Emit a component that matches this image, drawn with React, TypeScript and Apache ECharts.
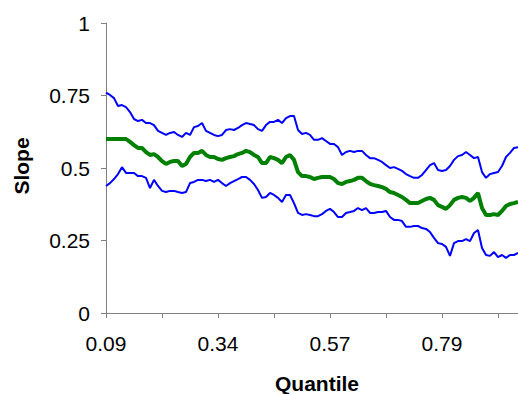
import React, { useEffect, useRef } from "react";
import * as echarts from "echarts";

const quantileTickLabels = ["0.09", "0.34", "0.57", "0.79"];
const labelEvery = 28; // categories between labelled ticks
const tickEvery = 14; // categories between tick marks

const upperBand = [
  0.760, 0.752, 0.741, 0.714, 0.717, 0.710, 0.693, 0.669, 0.662, 0.666,
  0.655, 0.655, 0.648, 0.628, 0.621, 0.614, 0.621, 0.624, 0.614, 0.607,
  0.621, 0.614, 0.641, 0.645, 0.655, 0.628, 0.621, 0.614, 0.610, 0.614,
  0.631, 0.634, 0.631, 0.638, 0.648, 0.655, 0.652, 0.648, 0.634, 0.628,
  0.648, 0.659, 0.659, 0.666, 0.655, 0.672, 0.679, 0.679, 0.631, 0.617,
  0.621, 0.614, 0.597, 0.597, 0.603, 0.593, 0.583, 0.583, 0.572, 0.545,
  0.555, 0.559, 0.555, 0.559, 0.559, 0.545, 0.534, 0.534, 0.528, 0.521,
  0.510, 0.500, 0.503, 0.497, 0.490, 0.479, 0.472, 0.466, 0.466, 0.476,
  0.493, 0.510, 0.517, 0.493, 0.490, 0.493, 0.507, 0.528, 0.541, 0.545,
  0.555, 0.545, 0.534, 0.538, 0.486, 0.466, 0.479, 0.483, 0.486, 0.507,
  0.538, 0.552, 0.569, 0.572,
];

const slopeEstimate = [
  0.600, 0.600, 0.600, 0.600, 0.600, 0.600, 0.590, 0.579, 0.569, 0.569,
  0.555, 0.545, 0.548, 0.538, 0.524, 0.514, 0.521, 0.524, 0.524, 0.507,
  0.514, 0.538, 0.552, 0.552, 0.559, 0.545, 0.538, 0.538, 0.531, 0.528,
  0.534, 0.538, 0.541, 0.548, 0.552, 0.559, 0.555, 0.545, 0.538, 0.517,
  0.517, 0.538, 0.534, 0.528, 0.517, 0.538, 0.545, 0.528, 0.486, 0.472,
  0.472, 0.469, 0.462, 0.466, 0.469, 0.469, 0.469, 0.462, 0.448, 0.445,
  0.452, 0.455, 0.459, 0.466, 0.466, 0.455, 0.445, 0.441, 0.438, 0.434,
  0.428, 0.417, 0.414, 0.407, 0.400, 0.390, 0.379, 0.379, 0.379, 0.386,
  0.393, 0.397, 0.390, 0.372, 0.366, 0.359, 0.372, 0.390, 0.397, 0.400,
  0.397, 0.386, 0.397, 0.414, 0.362, 0.338, 0.338, 0.341, 0.338, 0.352,
  0.369, 0.376, 0.379, 0.383,
];

const lowerBand = [
  0.438, 0.448, 0.462, 0.479, 0.503, 0.483, 0.483, 0.483, 0.472, 0.472,
  0.466, 0.431, 0.459, 0.438, 0.421, 0.417, 0.421, 0.421, 0.417, 0.414,
  0.417, 0.448, 0.452, 0.459, 0.459, 0.455, 0.459, 0.452, 0.459, 0.448,
  0.438, 0.448, 0.455, 0.462, 0.469, 0.469, 0.459, 0.445, 0.424, 0.397,
  0.400, 0.414, 0.407, 0.397, 0.383, 0.407, 0.407, 0.379, 0.345, 0.338,
  0.341, 0.338, 0.334, 0.334, 0.341, 0.352, 0.359, 0.348, 0.331, 0.331,
  0.345, 0.348, 0.352, 0.362, 0.355, 0.362, 0.345, 0.345, 0.348, 0.348,
  0.352, 0.331, 0.321, 0.321, 0.317, 0.297, 0.297, 0.300, 0.300, 0.293,
  0.290, 0.279, 0.259, 0.241, 0.238, 0.228, 0.197, 0.241, 0.248, 0.248,
  0.255, 0.248, 0.276, 0.286, 0.224, 0.200, 0.197, 0.210, 0.193, 0.200,
  0.190, 0.200, 0.200, 0.207,
];

const categories = slopeEstimate.map((_, i) => String(i));

export default function App() {
  const ref = useRef<HTMLDivElement>(null);

  useEffect(() => {
    if (!ref.current) return;
    const chart = echarts.init(ref.current, null, { renderer: "svg" });
    const font = "'Liberation Sans', Arial, sans-serif";
    const axisColor = "#808080";
    chart.setOption({
      animation: false,
      backgroundColor: "#ffffff",
      grid: { left: 106, right: 0, top: 23, bottom: 81, containLabel: false },
      xAxis: {
        type: "category",
        data: categories,
        boundaryGap: false,
        axisLine: { show: true, onZero: false, lineStyle: { color: axisColor, width: 1 } },
        axisTick: { show: true, interval: tickEvery - 1, length: 5, inside: false, lineStyle: { color: axisColor } },
        axisLabel: {
          interval: labelEvery - 1,
          margin: 20,
          color: "#000",
          fontFamily: font,
          fontSize: 21,
          formatter: (v: string) => {
            const i = Number(v);
            return i % labelEvery === 0 ? quantileTickLabels[i / labelEvery] ?? "" : "";
          },
        },
        splitLine: { show: false },
      },
      yAxis: {
        type: "value",
        min: 0,
        max: 1,
        interval: 0.25,
        axisLine: { show: true, lineStyle: { color: axisColor, width: 1 } },
        axisTick: { show: true, length: 5, inside: false, lineStyle: { color: axisColor } },
        axisLabel: { margin: 16, color: "#000", fontFamily: font, fontSize: 21 },
        splitLine: { show: false },
      },
      series: [
        {
          type: "line",
          data: upperBand,
          showSymbol: false,
          lineStyle: { color: "#0000FF", width: 2 },
          itemStyle: { color: "#0000FF" },
        },
        {
          type: "line",
          data: lowerBand,
          showSymbol: false,
          lineStyle: { color: "#0000FF", width: 2 },
          itemStyle: { color: "#0000FF" },
        },
        {
          type: "line",
          data: slopeEstimate,
          showSymbol: false,
          lineStyle: { color: "#008000", width: 4 },
          itemStyle: { color: "#008000" },
        },
      ],
      graphic: [
        {
          type: "text",
          x: 21,
          y: 166,
          rotation: Math.PI / 2,
          style: {
            text: "Slope",
            fontFamily: font,
            fontSize: 21,
            fontWeight: "bold",
            fill: "#000",
            align: "center",
            verticalAlign: "middle",
          },
        },
        {
          type: "text",
          x: 317,
          y: 383,
          style: {
            text: "Quantile",
            fontFamily: font,
            fontSize: 21,
            fontWeight: "bold",
            fill: "#000",
            align: "center",
            verticalAlign: "middle",
          },
        },
      ],
    });
    return () => chart.dispose();
  }, []);

  return (
    <div
      ref={ref}
      style={{ position: "fixed", left: 0, top: 0, width: 518, height: 394, background: "#fff" }}
    />
  );
}
